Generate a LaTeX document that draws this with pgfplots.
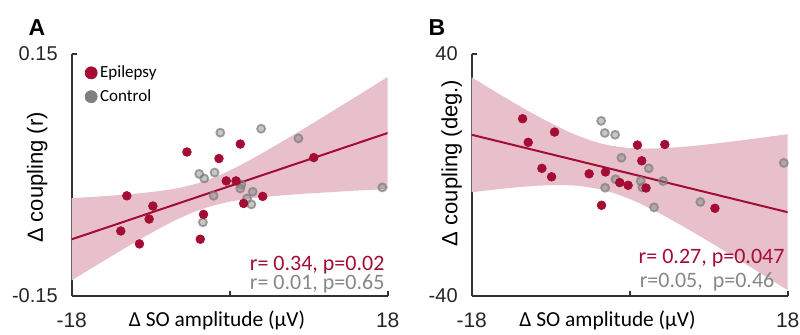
\documentclass[border=0pt]{standalone}
\usepackage{fontspec}
\setmainfont{Liberation Sans}
\newfontfamily\calfont{Carlito}
\usepackage{pgfplots}
\pgfplotsset{compat=1.18}
\usepgfplotslibrary{fillbetween}
\definecolor{epi}{RGB}{165,12,52}
\definecolor{band}{RGB}{231,192,203}
\definecolor{ctl}{RGB}{128,128,128}
\definecolor{txtgray}{RGB}{135,135,135}
\definecolor{axisc}{RGB}{50,50,50}
\pgfplotsset{
  panel/.style={
    scale only axis, width=158pt, height=121pt,
    clip mode=individual,
    axis lines*=left,
    axis line style={axisc, line width=0.8pt},
    tick align=inside, major tick length=2.5pt,
    tick style={axisc, line width=0.8pt},
    xmin=-18, xmax=18, xtick={-18,0,18}, xticklabels={-18,,18},
    x tick label style={font=\fontsize{10.5}{12}\selectfont, anchor=center, yshift=-12pt, text=black!85},
    y tick label style={font=\fontsize{10}{12}\selectfont, xshift=-3.5pt, text=black!85},
    xlabel style={font=\calfont\fontsize{10.7}{12}\selectfont, anchor=center, yshift=-12pt},
    ylabel style={font=\fontsize{11}{13}\selectfont, anchor=center},
    epiband/.style={fill=band, draw=none},
    epimark/.style={only marks, mark=*, mark size=2.2pt, mark options={fill=epi, draw=epi, line width=0.3pt}},
    ctlmark/.style={only marks, mark=*, mark size=2.0pt, mark options={fill=ctl, fill opacity=0.45, draw=ctl, draw opacity=0.75, line width=0.9pt}},
  }
}
\begin{document}
\begin{tikzpicture}
% ---------------- Panel A ----------------
\begin{axis}[panel, at={(35.85pt,19pt)}, anchor=south west,
  ymin=-0.15, ymax=0.15, ytick={-0.15,0.15}, yticklabels={-0.15,0.15},
  xlabel={Δ SO amplitude (µV)},
  xlabel style={at={(axis description cs:0.46,0)}},
  ylabel={Δ coupling (r)},
  ylabel style={at={(axis description cs:0,0.49)}, yshift=17.3pt},
  legend style={at={(axis description cs:0.035,0.975)}, anchor=north west, draw=none, fill=none,
    font=\calfont\fontsize{8.5}{10}\selectfont, row sep=1.5pt, inner sep=1pt,
    nodes={inner sep=1.5pt}},
  legend cell align=left,
]
\addlegendimage{only marks, mark=*, mark size=3pt, epi}
\addlegendentry{Epilepsy}
\addlegendimage{only marks, mark=*, mark size=3pt, ctl}
\addlegendentry{Control}
\addplot[name path=upA, draw=none, smooth, forget plot] coordinates {
(-18,-0.0287) (-15,-0.0267) (-12,-0.0243) (-9,-0.0212) (-6,-0.0165) (-3,-0.0081) (0,0.0055) (3,0.0227) (6,0.0416) (9,0.0611) (12,0.0811) (15,0.1012) (18,0.1216)};
\addplot[name path=loA, draw=none, smooth, forget plot] coordinates {
(-18,-0.1307) (-15,-0.1107) (-12,-0.0911) (-9,-0.0722) (-6,-0.0551) (-3,-0.0415) (0,-0.0331) (3,-0.0283) (6,-0.0252) (9,-0.0229) (12,-0.0209) (15,-0.0190) (18,-0.0174)};
\addplot[epiband, forget plot] fill between[of=upA and loA];
\addplot[epi, line width=1pt, forget plot] coordinates {(-18,-0.0797) (18,0.0521)};
\addplot[ctlmark, forget plot] coordinates {
(-1.07,0.0525) (3.58,0.0574) (7.83,0.0454) (17.39,-0.0154) (-3.47,0.0014) (-2.90,-0.0043) (-1.72,0.0031) (-1.83,-0.0258) (1.21,-0.0167) (1.33,-0.0117) (2.62,-0.0208) (1.98,-0.029) (2.47,-0.0364) (-3.05,-0.0586)};
\addplot[epimark, forget plot] coordinates {
(-4.87,0.0285) (-1.22,0.0204) (1.21,0.0384) (9.58,0.0216) (-0.39,-0.0073) (0.72,-0.0073) (-11.72,-0.0258) (-8.75,-0.0385) (-9.18,-0.0546) (-12.41,-0.0694) (-10.28,-0.0854) (-2.98,-0.0488) (-3.35,-0.0796) (1.59,-0.0352) (3.76,-0.0265)};
\node[anchor=base east, inner sep=0pt, text=epi, font=\calfont\fontsize{11}{12}\selectfont] at (rel axis cs:0.991,0.107) {r= 0.34, p=0.02};
\node[anchor=base east, inner sep=0pt, text=txtgray, font=\calfont\fontsize{11}{12}\selectfont] at (rel axis cs:0.991,0.025) {r= 0.01, p=0.65};
\node[anchor=base, inner sep=0pt, font=\bfseries\fontsize{11.5}{13}\selectfont] at (rel axis cs:-0.11,1.0785) {A};
\end{axis}
% ---------------- Panel B ----------------
\begin{axis}[panel, at={(235.85pt,19pt)}, anchor=south west,
  ymin=-40, ymax=40, ytick={-40,40}, yticklabels={-40,40},
  xlabel={Δ SO amplitude (µV)},
  xlabel style={at={(axis description cs:0.43,0)}},
  ylabel={Δ coupling (deg.)},
  ylabel style={at={(axis description cs:0,0.55)}, yshift=10pt},
]
\addplot[name path=upB, draw=none, smooth] coordinates {
(-18,32.3) (-15,27.0) (-12,21.9) (-9,17.16) (-6,13.09) (-3,10.23) (0,8.92) (3,8.79) (6,9.3) (9,10.16) (12,11.19) (15,12.31) (18,13.5)};
\addplot[name path=loB, draw=none, smooth] coordinates {
(-18,-5.7) (-15,-4.7) (-12,-3.85) (-9,-3.36) (-6,-3.55) (-3,-4.97) (0,-7.92) (3,-12.05) (6,-16.84) (9,-21.96) (12,-27.25) (15,-32.65) (18,-38.1)};
\addplot[epiband] fill between[of=upB and loB];
\addplot[epi, line width=1pt] coordinates {(-18,13.3) (18,-12.3)};
\addplot[ctlmark] coordinates {
(-3.25,17.9) (-2.84,13.9) (-1.66,13.3) (-0.94,5.7) (-1.62,-1.4) (-2.8,-4.2) (1.26,-2.0) (1.45,-4.1) (2.17,2.2) (3.8,-2.0) (2.77,-10.7) (8.05,-8.9) (17.56,4.0)};
\addplot[epimark] coordinates {
(-12.2,18.6) (-11.56,10.8) (-8.56,14.2) (-10.0,2.2) (-8.9,-0.6) (-4.62,0.4) (-2.76,1.0) (-3.21,-10.0) (-1.13,-2.5) (-0.18,-3.4) (0.88,9.9) (1.37,4.7) (1.86,-4.3) (4.0,10.1) (9.71,-11.0)};
\node[anchor=base east, inner sep=0pt, text=epi, font=\calfont\fontsize{11}{12}\selectfont] at (rel axis cs:0.991,0.136) {r= 0.27, p=0.047};
\node[anchor=base east, inner sep=0pt, text=txtgray, font=\calfont\fontsize{11}{12}\selectfont] at (rel axis cs:0.959,0.037) {r=0.05,\ \ p=0.46};
\node[anchor=base, inner sep=0pt, font=\bfseries\fontsize{11.5}{13}\selectfont] at (rel axis cs:-0.11,1.0785) {B};
\end{axis}
\pgfresetboundingbox
\path[use as bounding box] (0,0) rectangle (400pt,167pt);
\end{tikzpicture}
\end{document}
